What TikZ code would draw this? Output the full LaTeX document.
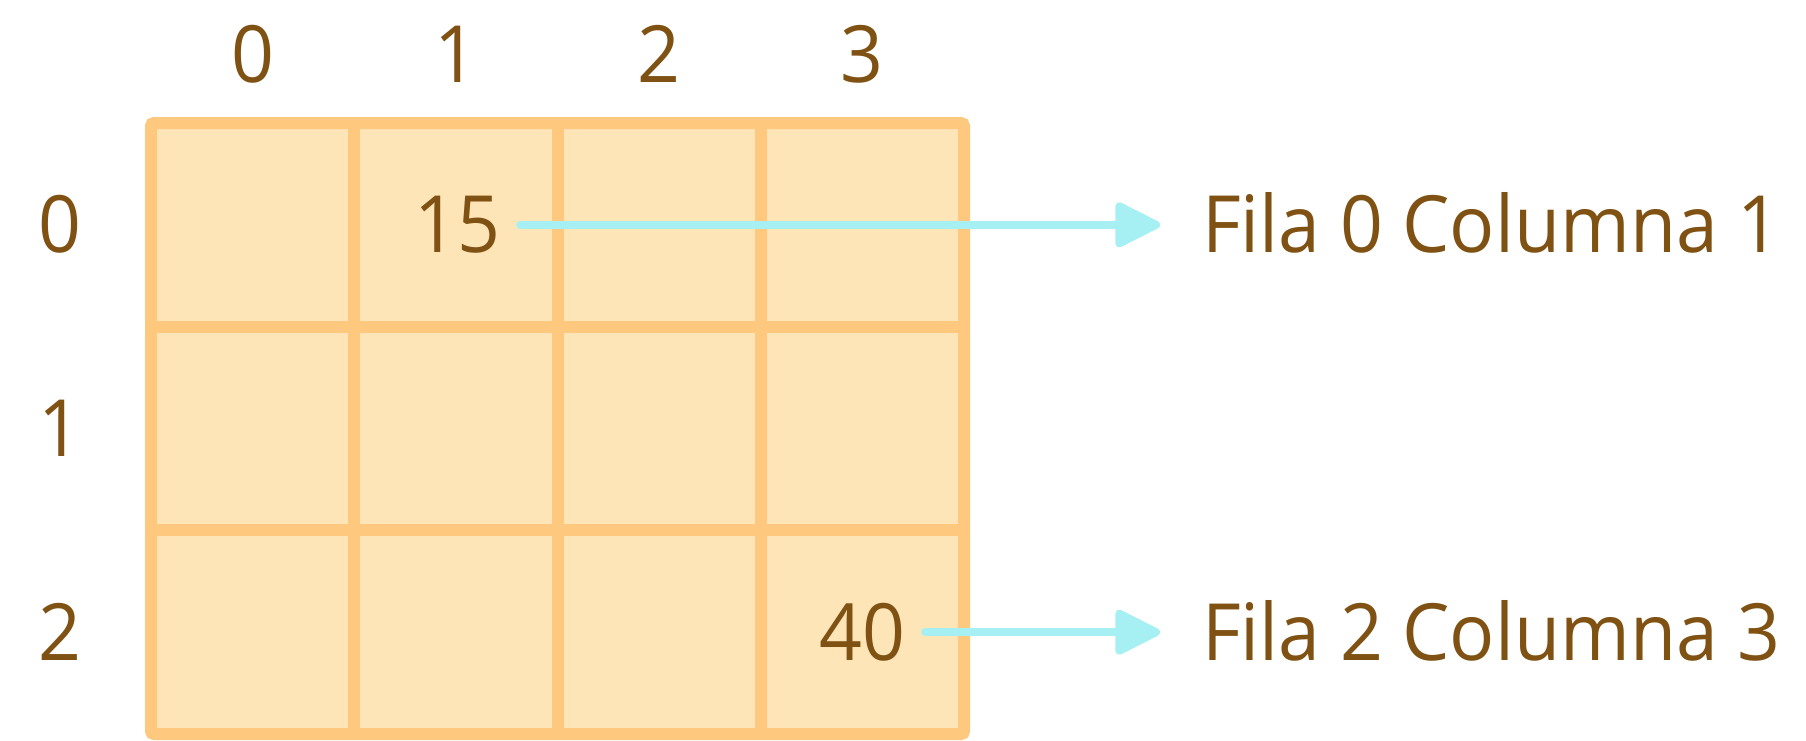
\documentclass[tikz,border=0pt]{standalone}
\usepackage{fontspec}
\setmainfont{Open Sans}[FakeStretch=0.95]
\usetikzlibrary{arrows.meta}
\definecolor{cellfill}{HTML}{FEE5B8}
\definecolor{gridline}{HTML}{FEC87E}
\definecolor{txtbrown}{HTML}{7F5214}
\definecolor{arrowcyan}{HTML}{A6F0F4}
\tikzset{
  lbl/.style={text=txtbrown, inner sep=0pt, font=\fontsize{79}{94}\selectfont, text height=56pt, text depth=0pt},
  gridstroke/.style={draw=gridline, line width=12pt},
  pointer/.style={draw=arrowcyan, line width=8pt, line cap=round, line join=round, -{Triangle[length=50pt,width=48pt,round]}, shorten <=20pt}
}
\begin{document}
\begin{tikzpicture}[x=1pt,y=-1pt]
\useasboundingbox (0,0) rectangle (1806,740);
% grid
\fill[cellfill] (151,123) rectangle (964,734);
\foreach \x in {354.25,557.5,760.75} \draw[gridstroke] (\x,123) -- (\x,734);
\foreach \y in {326.7,530.3} \draw[gridstroke] (151,\y) -- (964,\y);
\draw[gridstroke, rounded corners=3pt] (151,123) rectangle (964,734);
% column labels
\node[lbl] (c0) at (252.6,54.5) {0};
\node[lbl] (c1) at (455.9,54.5) {1};
\node[lbl] (c2) at (659.1,54.5) {2};
\node[lbl] (c3) at (862.4,54.5) {3};
% row labels
\node[lbl] (r0) at (60,224.8) {0};
\node[lbl] (r1) at (60,428.5) {1};
\node[lbl] (r2) at (60,632.2) {2};
% values
\node[lbl] (v15) at (457,224.8) {15};
\node[lbl] (v40) at (862,632.2) {40};
% descriptions
\node[lbl, anchor=west] (d0) at (1202,224.8) {Fila 0 Columna 1};
\node[lbl, anchor=west] (d2) at (1202,632.2) {Fila 2 Columna 3};
% arrows
\draw[pointer, shorten >=42pt] (v15.east) -- (d0.west);
\draw[pointer, shorten >=42pt] (v40.east) -- (d2.west);
\end{tikzpicture}
\end{document}
